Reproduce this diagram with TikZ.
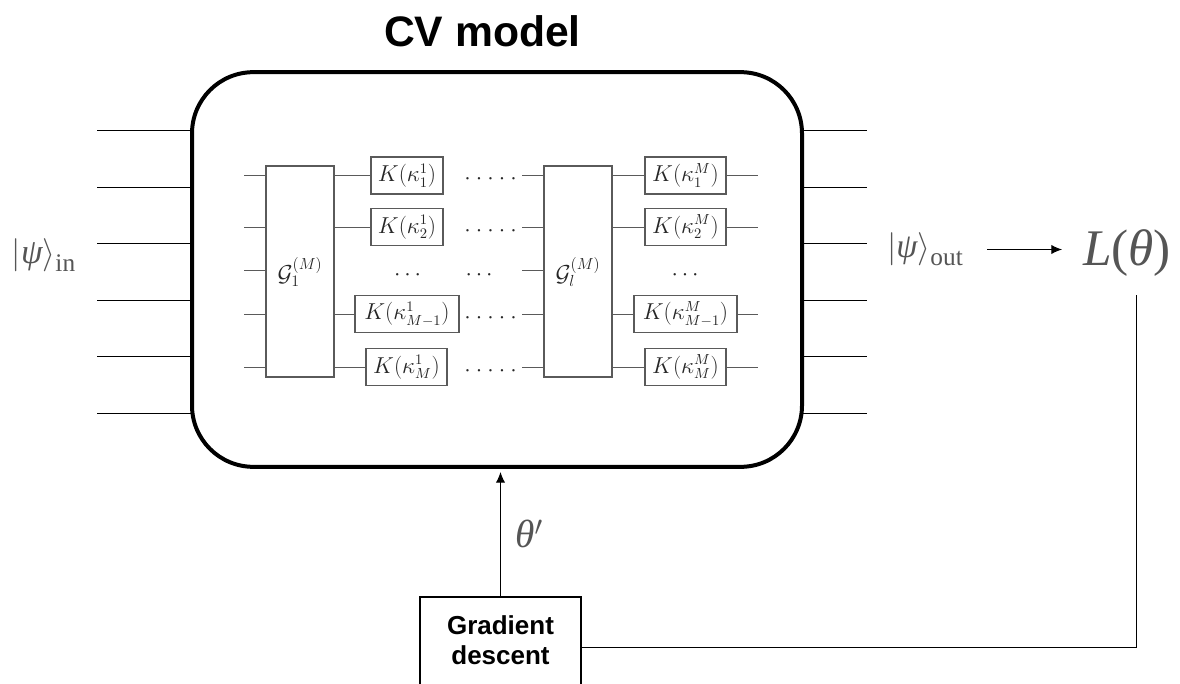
\documentclass[tikz,border=0pt]{standalone}
\usepackage{fontspec}
\setmainfont{Liberation Serif}
\newfontfamily\hv{Liberation Sans}
\usetikzlibrary{arrows.meta}
\definecolor{circ}{HTML}{5A5A5A}
\definecolor{mathgray}{HTML}{555555}
\newcommand{\kt}[2]{$K(\kappa_{#2}^{#1})$}
\newcommand{\greek}[1]{\mbox{\itshape #1}}
\tikzset{
  x=0.75pt,y=-0.75pt,
  wire/.style={draw=black,line width=0.8pt},
  cwire/.style={draw=circ,line width=1pt},
  gate/.style={draw=circ,line width=1.1pt,fill=white,inner sep=0pt,minimum height=27.5pt,font=\fontsize{16}{18}\selectfont,text=black!85},
  biggate/.style={draw=circ,line width=1.1pt,fill=white,inner sep=0pt,minimum width=51pt,minimum height=158.25pt},
  gatelabel/.style={font=\fontsize{16.5}{18}\selectfont,text=black!85,inner sep=0pt},
  dotsn/.style={font=\fontsize{16.5}{18}\selectfont,text=black!85,inner sep=0pt},
  lab/.style={text=mathgray,inner sep=0pt},
  arr/.style={wire,-{Latex[length=8pt,width=7pt]}}
}
\begin{document}
\begin{tikzpicture}
\clip (0,0) rectangle (1180,684);
\node[font=\hv\bfseries\fontsize{32}{36}\selectfont,inner sep=0pt] (title) at (482.5,31) {CV model};
% main rounded box
\node[draw=black,line width=3pt,rounded corners=46pt,minimum width=457.5pt,minimum height=296pt,inner sep=0pt] (cv) at (497,269.5) {};
% outer wires
\foreach \n/\y in {1/130.5,2/187.5,3/243.5,4/300.5,5/356.5,6/413.5}{
  \coordinate (il\n) at (97,\y);
  \coordinate (ir\n) at (192,\y);
  \coordinate (ol\n) at (802,\y);
  \coordinate (or\n) at (867,\y);
  \draw[wire] (il\n) -- (ir\n);
  \draw[wire] (ol\n) -- (or\n);
}
% big gates
\node[biggate] (g1) at (300,271.5) {};
\node[gatelabel] (g1t) at (300,272) {$\mathcal{G}_1^{(M)}$};
\node[biggate] (gl) at (578,271.5) {};
\node[gatelabel] (glt) at (578,272) {$\mathcal{G}_l^{(M)}$};
% K gates, left
\node[gate,minimum width=54pt] (a1) at (407,175.5) {\kt{1}{1}};
\node[gate,minimum width=54pt] (a2) at (407,227) {\kt{1}{2}};
\node[gate,minimum width=78pt] (a4) at (407,314) {\kt{1}{M-1}};
\node[gate,minimum width=60.75pt] (a5) at (406.5,367) {\kt{1}{M}};
% K gates, right
\node[gate,minimum width=60.75pt] (b1) at (685.5,175.5) {\kt{M}{1}};
\node[gate,minimum width=60.75pt] (b2) at (685.5,227) {\kt{M}{2}};
\node[gate,minimum width=77.25pt] (b4) at (685.5,314) {\kt{M}{M-1}};
\node[gate,minimum width=60.75pt] (b5) at (685.5,367) {\kt{M}{M}};
% stubs
\foreach \n/\y in {1/175.5,2/227.5,3/270.5,4/314.5,5/367.5}{
  \coordinate (s\n) at (244,\y);
  \coordinate (m\n) at (522,\y);
  \draw[cwire] (s\n) -- (s\n -| g1.west);
  \draw[cwire] (m\n) -- (m\n -| gl.west);
}
\foreach \n/\y in {1/175.5,2/227.5,4/314.5,5/367.5}{
  \coordinate (e\n) at (758,\y);
  \draw[cwire] (a\n.west |- 0,\y) -- (g1.east |- 0,\y);
  \draw[cwire] (b\n.west |- 0,\y) -- (gl.east |- 0,\y);
  \draw[cwire] (b\n.east |- 0,\y) -- (e\n);
  \node[dotsn] (d\n) at (490.5,\y+3.5) {${\cdot}\mkern4mu{\cdot}\mkern4mu{\cdot}\mkern4mu{\cdot}\mkern4mu{\cdot}$};
}
\node[dotsn] (d3a) at (407.5,275) {$\cdots$};
\node[dotsn] (d3b) at (479,275) {$\cdots$};
\node[dotsn] (d3c) at (685,275) {$\cdots$};
% labels
\node[lab,font=\fontsize{26}{28}\selectfont] (psiin) at (43.5,255) {$|$\greek{ψ}$\rangle$\raisebox{-0.25em}{\fontsize{19}{20}\selectfont in}};
\node[lab,font=\fontsize{25.5}{28}\selectfont] (psiout) at (925,249) {$|$\greek{ψ}$\rangle$\raisebox{-0.25em}{\fontsize{19}{20}\selectfont out}};
\node[lab,font=\fontsize{38.5}{42}\selectfont] (loss) at (1127,253) {\greek{L}(\greek{θ})};
\node[lab,font=\fontsize{29.5}{32}\selectfont] (thetap) at (529,534) {\greek{θ}$'$};
% gradient descent
\node[draw=black,line width=0.8pt,minimum width=120.75pt,minimum height=75.75pt,inner sep=0pt] (gd) at (500.5,647.5) {};
\node[font=\hv\bfseries\fontsize{19.5}{22.5}\selectfont,align=center,inner sep=0pt] (gdt) at (500.5,640) {Gradient\\descent};
% connectors
\coordinate (lossb) at (1136.5,295);
\coordinate (psir) at (987,249.5);
\coordinate (lossl) at (1062,249.5);
\coordinate (cvin) at (500.5,472);
\draw[arr] (gd.north) -- (cvin);
\draw[arr] (psir) -- (lossl);
\draw[wire] (gd.east) -| (lossb);
\end{tikzpicture}
\end{document}
